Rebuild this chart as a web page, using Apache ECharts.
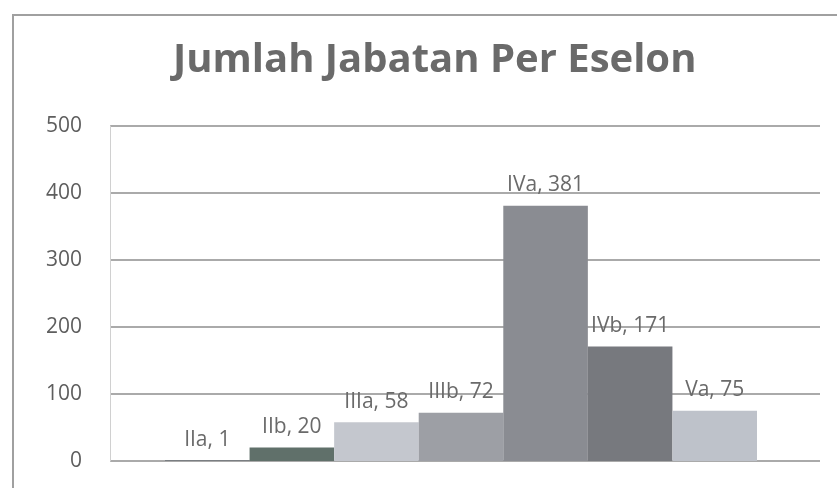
<!DOCTYPE html>
<html>
<head>
<meta charset="utf-8">
<script src="https://cdn.jsdelivr.net/npm/echarts@6/dist/echarts.min.js"></script>
<style>
html,body{margin:0;padding:0;background:#ffffff;}
#chart{width:837px;height:488px;}
</style>
</head>
<body>
<div id="chart"></div>
<script>
const categories = ['IIa', 'IIb', 'IIIa', 'IIIb', 'IVa', 'IVb', 'Va'];
const values = [1, 20, 58, 72, 381, 171, 75];
const barColors = ['#6a6f74', '#60706a', '#c4c7ce', '#9d9fa5', '#8a8c92', '#77797e', '#bec2ca'];
const yTicks = [0, 100, 200, 300, 400, 500];
const titleText = 'Jumlah Jabatan Per Eselon';

const chart = echarts.init(document.getElementById('chart'));
const gridTop = 126, gridBottom = 27;
chart.setOption({
  backgroundColor: '#ffffff',
  animation: false,
  title: {
    text: titleText,
    left: 168,
    top: 36,
    textStyle: { fontFamily: 'Open Sans', fontWeight: 'bold', fontSize: 40, color: '#6a6a6a' }
  },
  graphic: [{
    type: 'rect',
    shape: { x: 13, y: 15, width: 900, height: 520 },
    style: { fill: 'none', stroke: '#a0a0a0', lineWidth: 2 },
    silent: true
  }],
  grid: [
    { left: 110, right: 17, top: gridTop, bottom: gridBottom },
    { left: 165, right: 80, top: gridTop, bottom: gridBottom }
  ],
  xAxis: [
    { type: 'category', gridIndex: 0, data: [''], show: false },
    { type: 'category', gridIndex: 1, data: categories, show: false }
  ],
  yAxis: [
    {
      type: 'value', gridIndex: 0, min: yTicks[0], max: yTicks[yTicks.length - 1], interval: 100,
      axisLine: { show: true, lineStyle: { color: '#d0d0d0', width: 1 } },
      axisTick: { show: false },
      splitLine: { lineStyle: { color: '#8e8e8e', width: 1.5 } },
      axisLabel: { fontFamily: 'Open Sans', fontSize: 21, color: '#5e5e5e', margin: 28 }
    },
    {
      type: 'value', gridIndex: 1, min: yTicks[0], max: yTicks[yTicks.length - 1], show: false,
      splitLine: { show: false }
    }
  ],
  series: [{
    type: 'bar',
    xAxisIndex: 1,
    yAxisIndex: 1,
    barCategoryGap: '0%',
    data: values.map((v, i) => ({ value: v, itemStyle: { color: barColors[i] } })),
    label: {
      show: true,
      position: 'top',
      distance: 10,
      formatter: p => p.name + ', ' + p.value,
      fontFamily: 'Open Sans',
      fontSize: 21,
      color: '#6a6a6a'
    }
  }]
});
</script>
</body>
</html>
